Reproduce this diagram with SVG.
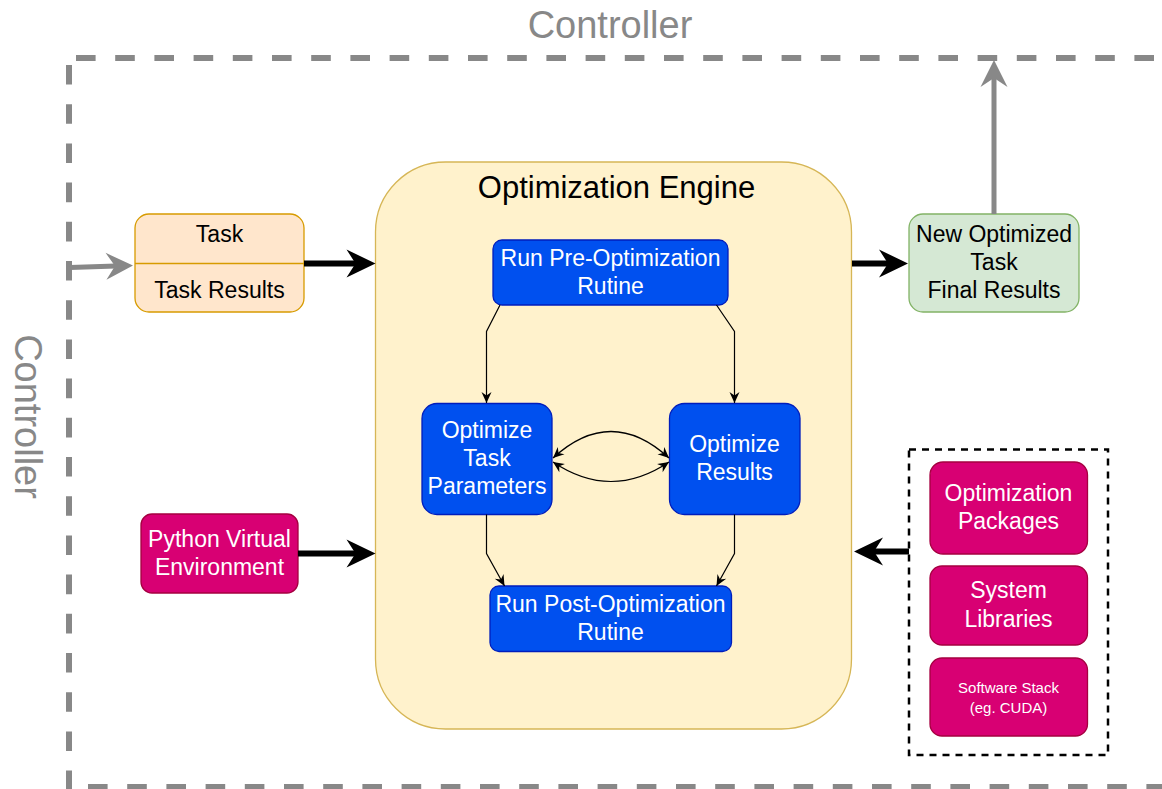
<svg xmlns="http://www.w3.org/2000/svg" width="1162" height="789" viewBox="0 0 1162 789">
  <defs>
    <style>
      text { font-family: "Liberation Sans", Arial, Helvetica, sans-serif; text-anchor: middle; }
      .ctl { fill: #888888; font-size: 38px; }
      .lbl { font-size: 23px; fill: #000000; }
      .wht { font-size: 23px; fill: #ffffff; }
      .sml { font-size: 15px; fill: #ffffff; }
      .blue { fill: #0050ef; stroke: #001dbc; stroke-width: 1.3; }
      .mag { fill: #d80073; stroke: #a50040; stroke-width: 1.3; }
      .outer { fill: none; stroke: #888888; stroke-width: 6; stroke-dasharray: 19.6 19.6; }
      .thick { fill: none; stroke: #000000; stroke-width: 6; }
      .gray { fill: none; stroke: #888888; stroke-width: 5; }
      .thin { fill: none; stroke: #000000; stroke-width: 1.2; }
    </style>
    <marker id="arrowBlack" markerUnits="userSpaceOnUse" viewBox="-12 -15 31 30" markerWidth="31" markerHeight="30" refX="0" refY="0" orient="auto">
      <path d="M19,0 L-10,-14 L-1,0 L-10,14 Z" fill="#000000"/>
    </marker>
    <marker id="arrowGray" markerUnits="userSpaceOnUse" viewBox="-12 -15 31 30" markerWidth="31" markerHeight="30" refX="0" refY="0" orient="auto">
      <path d="M17,0 L-10,-13.5 L-1,0 L-10,13.5 Z" fill="#888888"/>
    </marker>
    <marker id="arrowThin" markerUnits="userSpaceOnUse" viewBox="-12 -6 13 12" markerWidth="13" markerHeight="12" refX="0" refY="0" orient="auto-start-reverse">
      <path d="M0,0 L-11,-5 L-7.5,0 L-11,5 Z" fill="#000000"/>
    </marker>
  </defs>

  <rect width="1162" height="789" fill="#ffffff"/>

  <!-- Controller boundary -->
  <g id="controller">
    <path class="outer" d="M76,58 H1162"/>
    <path class="outer" d="M69,65 V789"/>
    <path class="outer" d="M88,787 H1162"/>
    <text class="ctl" x="610" y="37.5">Controller</text>
    <text class="ctl" transform="translate(15,416.5) rotate(90)" x="0" y="0">Controller</text>
  </g>

  <!-- Optimization engine container -->
  <g id="engine">
    <rect x="375.5" y="162" width="476" height="567" rx="70" ry="70" fill="#fff2cc" stroke="#d6b656" stroke-width="1.3"/>
    <text x="616.5" y="197.5" style="font-size:31px">Optimization Engine</text>
  </g>

  <g id="task">
    <rect x="135" y="214" width="169" height="98" rx="14" ry="14" fill="#ffe6cc" stroke="#d79b00" stroke-width="1.3"/>
    <line x1="135" y1="263.5" x2="304" y2="263.5" stroke="#d79b00" stroke-width="1.3"/>
    <text class="lbl" x="219.5" y="242">Task</text>
    <text class="lbl" x="219.5" y="298">Task Results</text>
  </g>

  <g id="new-optimized">
    <rect x="909" y="214" width="170" height="98" rx="14" ry="14" fill="#d5e8d4" stroke="#82b366" stroke-width="1.3"/>
    <text class="lbl" x="994" y="242">New Optimized</text>
    <text class="lbl" x="994" y="270">Task</text>
    <text class="lbl" x="994" y="298">Final Results</text>
  </g>

  <g id="pre-optimization">
    <rect class="blue" x="493" y="240" width="235" height="65" rx="9" ry="9"/>
    <text class="wht" x="610.5" y="266">Run Pre-Optimization</text>
    <text class="wht" x="610.5" y="294">Rutine</text>
  </g>

  <g id="optimize-parameters">
    <rect class="blue" x="422" y="403.5" width="130" height="111" rx="15" ry="15"/>
    <text class="wht" x="487" y="437.5">Optimize</text>
    <text class="wht" x="487" y="466">Task</text>
    <text class="wht" x="487" y="494">Parameters</text>
  </g>

  <g id="optimize-results">
    <rect class="blue" x="669.5" y="403.5" width="130.5" height="111" rx="15" ry="15"/>
    <text class="wht" x="734.5" y="452">Optimize</text>
    <text class="wht" x="734.5" y="480">Results</text>
  </g>

  <g id="post-optimization">
    <rect class="blue" x="490" y="586" width="241.5" height="65.5" rx="9" ry="9"/>
    <text class="wht" x="610.5" y="612">Run Post-Optimization</text>
    <text class="wht" x="610.5" y="640">Rutine</text>
  </g>

  <g id="python-env">
    <rect class="mag" x="141" y="514" width="157" height="79" rx="11" ry="11"/>
    <text class="wht" x="219.5" y="547">Python Virtual</text>
    <text class="wht" x="219.5" y="575">Environment</text>
  </g>

  <g id="software-stack">
    <rect x="909" y="449.5" width="199" height="305.5" fill="none" stroke="#000000" stroke-width="2.5" stroke-dasharray="7 6"/>
    <g id="opt-packages">
      <rect class="mag" x="930" y="462" width="157.5" height="92" rx="13" ry="13"/>
      <text class="wht" x="1008.5" y="501">Optimization</text>
      <text class="wht" x="1008.5" y="529">Packages</text>
    </g>
    <g id="sys-libraries">
      <rect class="mag" x="930" y="566" width="157.5" height="79" rx="12" ry="12"/>
      <text class="wht" x="1008.5" y="598">System</text>
      <text class="wht" x="1008.5" y="627">Libraries</text>
    </g>
    <g id="cuda-stack">
      <rect class="mag" x="930" y="658" width="157.5" height="78" rx="12" ry="12"/>
      <text class="sml" x="1008.5" y="692.5">Software Stack</text>
      <text class="sml" x="1008.5" y="713">(eg. CUDA)</text>
    </g>
  </g>

  <!-- Connectors -->
  <g id="connectors">
    <path class="gray" d="M70,267.5 L116,266" marker-end="url(#arrowGray)"/>
    <path class="gray" d="M994,214 V77" marker-end="url(#arrowGray)"/>
    <path class="thick" d="M304,263.5 H356.5" marker-end="url(#arrowBlack)"/>
    <path class="thick" d="M298,553.5 H356.5" marker-end="url(#arrowBlack)"/>
    <path class="thick" d="M852,263.5 H889" marker-end="url(#arrowBlack)"/>
    <path class="thick" d="M909,551.5 H873" marker-end="url(#arrowBlack)"/>
    <path class="thin" d="M500,305 L486.5,331.5 V403" marker-end="url(#arrowThin)"/>
    <path class="thin" d="M716.5,305 L734.5,331.5 V403" marker-end="url(#arrowThin)"/>
    <path class="thin" d="M486.5,514.5 V553.5 L504.5,586" marker-end="url(#arrowThin)"/>
    <path class="thin" d="M734.5,514.5 V553.5 L716.5,586" marker-end="url(#arrowThin)"/>
    <path class="thin" d="M553,458 Q611,405 669,458" marker-start="url(#arrowThin)" marker-end="url(#arrowThin)"/>
    <path class="thin" d="M553,462 Q611,501 669,462" marker-start="url(#arrowThin)" marker-end="url(#arrowThin)"/>
  </g>
</svg>
